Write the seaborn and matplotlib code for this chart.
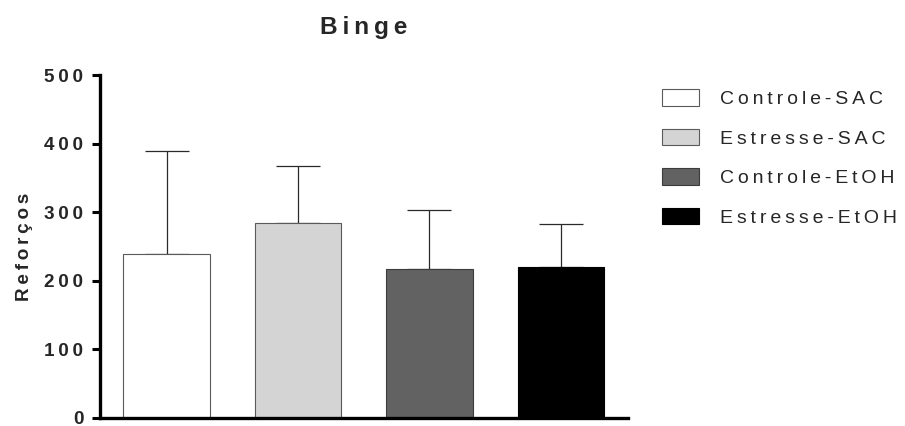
import matplotlib
matplotlib.use("Agg")
import matplotlib.pyplot as plt
from matplotlib.patches import Patch
import numpy as np
import pandas as pd
import seaborn as sns

# Group data: mean reinforcements and upper SD per group
grupos = ["Controle-SAC", "Estresse-SAC", "Controle-EtOH", "Estresse-EtOH"]
medias = [240, 285, 218, 221]
desvios = [150, 82, 85, 62]
cores = ["#ffffff", "#d4d4d4", "#626262", "#000000"]
bordas = ["#5a5a5a", "#5a5a5a", "#3c3c3c", "#000000"]
yticks = [0, 100, 200, 300, 400, 500]


def espacado(texto):
    """Wide letter spacing (thin space between characters)."""
    return "\u2009".join(texto)


sns.set_theme(style="white")
plt.rcParams["font.family"] = ["Liberation Sans", "DejaVu Sans"]

df = pd.DataFrame({"grupo": grupos, "reforcos": medias})

fig = plt.figure(figsize=(9.05, 4.26), dpi=100)
ax = fig.add_axes([100 / 905, (426 - 418) / 426, 528 / 905, (418 - 75.3) / 426])

# Upper-only error bars, drawn beneath the bars
ax.errorbar(np.arange(len(grupos)), medias,
            yerr=[np.zeros(len(grupos)), desvios],
            fmt="none", ecolor="#2a2a2a", elinewidth=0.9,
            capsize=15.8, capthick=0.9, zorder=1)

sns.barplot(data=df, x="grupo", y="reforcos", hue="grupo", palette=cores,
            width=0.66, errorbar=None, legend=False, ax=ax,
            linewidth=0.8, zorder=2)
for p, b in zip(ax.patches, bordas):
    p.set_edgecolor(b)
    p.set_zorder(2)

ax.set_xlim(-0.506, 3.51)
ax.set_ylim(0, 500)
ax.set_yticks(yticks)
ax.set_yticklabels([espacado(str(t)) for t in yticks],
                   fontsize=13.6, fontweight="bold")
ax.set_xticks([])
ax.set_xlabel("")
ax.set_ylabel(espacado("Reforços"), fontsize=13.6, fontweight="bold", labelpad=8)
ax.tick_params(axis="y", direction="out", length=6, width=2.2, pad=6,
               left=True, color="black")

for s in ["top", "right"]:
    ax.spines[s].set_visible(False)
for s in ["left", "bottom"]:
    ax.spines[s].set_linewidth(2.4)
    ax.spines[s].set_color("black")
ax.set_facecolor("white")

ax.set_title(espacado("Binge"), fontsize=17.6, fontweight="bold", pad=30)

handles = [Patch(facecolor=c, edgecolor=b, linewidth=0.8)
           for c, b in zip(cores, bordas)]
fig.legend(handles, [espacado(g) for g in grupos],
           loc="upper left", bbox_to_anchor=(662 / 905, 1 - 89 / 426),
           frameon=False, fontsize=14, handlelength=1.92, handleheight=0.93,
           handletextpad=1.04, labelspacing=1.06, borderpad=0,
           borderaxespad=0)

fig.savefig("out.png", dpi=100, facecolor="white")
